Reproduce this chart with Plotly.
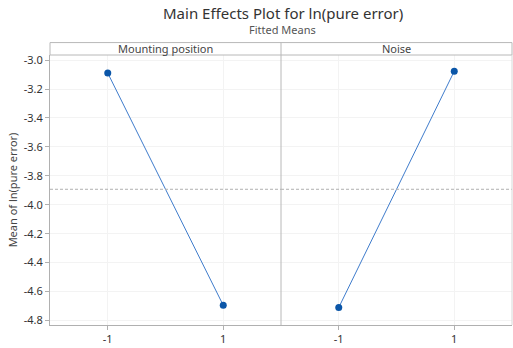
import plotly.graph_objects as go
from plotly.subplots import make_subplots

factors = ["Mounting position", "Noise"]
levels = [-1, 1]
mounting_means = [-3.09, -4.695]
noise_means = [-4.71, -3.077]
grand_mean = -3.893
yticks = [-3.0, -3.2, -3.4, -3.6, -3.8, -4.0, -4.2, -4.4, -4.6, -4.8]
ytick_text = ["-3.0", "-3.2", "-3.4", "-3.6", "-3.8", "-4.0", "-4.2", "-4.4", "-4.6", "-4.8"]

FONT = "Noto Sans"
fig = make_subplots(rows=1, cols=2, shared_yaxes=True, horizontal_spacing=0)

for i, ys in enumerate([mounting_means, noise_means]):
    fig.add_trace(go.Scatter(x=levels, y=ys, mode="lines",
                             line=dict(color="#3f7ccc", width=1), showlegend=False,
                             hoverinfo="skip"), row=1, col=i + 1)
    fig.add_trace(go.Scatter(x=levels, y=ys, mode="markers",
                             marker=dict(color="#0b56a8", size=7), showlegend=False),
                  row=1, col=i + 1)
    fig.add_hline(y=grand_mean, line=dict(color="#b0b0b0", width=1, dash="3px,2px"),
                  row=1, col=i + 1)

axis_common = dict(range=[-2, 2], tickvals=levels, ticktext=["-1", "1"],
                   showgrid=True, gridcolor="#f3f3f3", gridwidth=1, zeroline=False,
                   showline=True, linecolor="#b0b0b0", linewidth=1,
                   ticks="outside", ticklen=4, tickcolor="#b0b0b0",
                   tickfont=dict(family=FONT, size=11, color="#333"))
fig.update_xaxes(**axis_common)
fig.update_yaxes(range=[-4.831, -2.965], tickvals=yticks, ticktext=ytick_text,
                 showgrid=True, gridcolor="#f3f3f3", zeroline=False,
                 showline=False, ticks="", tickfont=dict(family=FONT, size=11, color="#333"))
fig.update_yaxes(showline=True, linecolor="#b0b0b0", ticks="outside", ticklen=4,
                 tickcolor="#b0b0b0", row=1, col=1,
                 title=dict(text="Mean of ln(pure error)", font=dict(family=FONT, size=11, color="#444"),
                            standoff=3))

# strip header and panel borders
fig.add_shape(type="rect", xref="paper", yref="paper", x0=0, x1=1, y0=1, y1=1.046,
              line=dict(color="#b8b8b8", width=1), fillcolor="white", layer="above")
fig.add_shape(type="line", xref="paper", yref="paper", x0=0.5, x1=0.5, y0=0, y1=1.046,
              line=dict(color="#b8b8b8", width=1))
fig.add_shape(type="line", xref="paper", yref="paper", x0=1, x1=1, y0=0, y1=1,
              line=dict(color="#d8d8d8", width=1))
for i, name in enumerate(factors):
    fig.add_annotation(text=name, xref="paper", yref="paper", x=0.25 + 0.5 * i, y=1.023,
                       showarrow=False, xanchor="center", yanchor="middle",
                       font=dict(family=FONT, size=11, color="#444"))

fig.add_annotation(text="Main Effects Plot for ln(pure error)", xref="paper", yref="paper",
                   x=0.504, y=1.155, xanchor="center", yanchor="middle", showarrow=False,
                   font=dict(family=FONT, size=15, color="#333"))
fig.add_annotation(text="Fitted Means", xref="paper", yref="paper",
                   x=0.504, y=1.093, xanchor="center", yanchor="middle", showarrow=False,
                   font=dict(family=FONT, size=11, color="#555"))

fig.update_layout(
    width=513, height=348,
    margin=dict(l=50, r=1, t=55, b=23),
    paper_bgcolor="white", plot_bgcolor="white",
)

fig.write_html("out.html")
